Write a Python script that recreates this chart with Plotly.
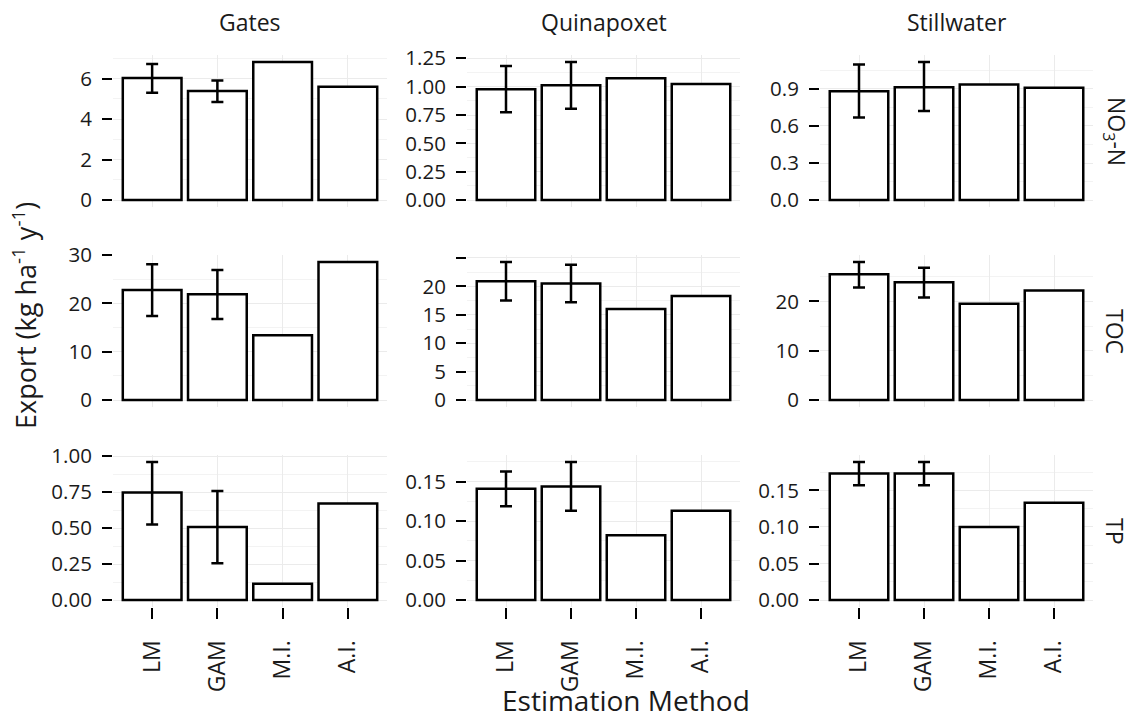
import plotly.graph_objects as go
from plotly.subplots import make_subplots

# ---------------- data ----------------
sites = ["Gates", "Quinapoxet", "Stillwater"]
variables = ["NO<sub>3</sub>-N", "TOC", "TP"]
methods = ["LM", "GAM", "M.I.", "A.I."]

# NO3-N
no3_gates = [6.02, 5.38, 6.82, 5.59]
no3_gates_lo = [5.30, 4.84, None, None]
no3_gates_hi = [6.72, 5.90, None, None]
no3_quin = [0.977, 1.012, 1.074, 1.024]
no3_quin_lo = [0.775, 0.805, None, None]
no3_quin_hi = [1.183, 1.218, None, None]
no3_still = [0.881, 0.913, 0.935, 0.908]
no3_still_lo = [0.668, 0.720, None, None]
no3_still_hi = [1.097, 1.118, None, None]

# TOC
toc_gates = [22.8, 21.9, 13.4, 28.6]
toc_gates_lo = [17.4, 16.8, None, None]
toc_gates_hi = [28.1, 26.9, None, None]
toc_quin = [20.9, 20.5, 16.0, 18.3]
toc_quin_lo = [17.5, 17.2, None, None]
toc_quin_hi = [24.3, 23.8, None, None]
toc_still = [25.5, 23.9, 19.5, 22.2]
toc_still_lo = [22.8, 20.8, None, None]
toc_still_hi = [28.0, 26.8, None, None]

# TP
tp_gates = [0.749, 0.508, 0.114, 0.672]
tp_gates_lo = [0.525, 0.256, None, None]
tp_gates_hi = [0.961, 0.758, None, None]
tp_quin = [0.141, 0.144, 0.082, 0.113]
tp_quin_lo = [0.119, 0.113, None, None]
tp_quin_hi = [0.163, 0.175, None, None]
tp_still = [0.173, 0.173, 0.100, 0.133]
tp_still_lo = [0.157, 0.157, None, None]
tp_still_hi = [0.189, 0.189, None, None]

# tick values / labels per panel (row-major)
ticks_no3_gates = [0, 2, 4, 6]
ticks_no3_quin = [0, 0.25, 0.5, 0.75, 1.0, 1.25]
ticks_no3_still = [0, 0.3, 0.6, 0.9]
ticks_toc_gates = [0, 10, 20, 30]
ticks_toc_quin = [0, 5, 10, 15, 20, 25]
ticks_toc_still = [0, 10, 20]
ticks_tp_gates = [0, 0.25, 0.5, 0.75, 1.0]
ticks_tp_quin = [0, 0.05, 0.10, 0.15]
ticks_tp_still = [0, 0.05, 0.10, 0.15]

labels_no3_gates = ["0", "2", "4", "6"]
labels_no3_quin = ["0.00", "0.25", "0.50", "0.75", "1.00", "1.25"]
labels_no3_still = ["0.0", "0.3", "0.6", "0.9"]
labels_toc_gates = ["0", "10", "20", "30"]
labels_toc_quin = ["0", "5", "10", "15", "20", ""]
labels_toc_still = ["0", "10", "20"]
labels_tp_gates = ["0.00", "0.25", "0.50", "0.75", "1.00"]
labels_tp_quin = ["0.00", "0.05", "0.10", "0.15"]
labels_tp_still = ["0.00", "0.05", "0.10", "0.15"]

panels = [
    [(no3_gates, no3_gates_lo, no3_gates_hi, ticks_no3_gates, labels_no3_gates),
     (no3_quin, no3_quin_lo, no3_quin_hi, ticks_no3_quin, labels_no3_quin),
     (no3_still, no3_still_lo, no3_still_hi, ticks_no3_still, labels_no3_still)],
    [(toc_gates, toc_gates_lo, toc_gates_hi, ticks_toc_gates, labels_toc_gates),
     (toc_quin, toc_quin_lo, toc_quin_hi, ticks_toc_quin, labels_toc_quin),
     (toc_still, toc_still_lo, toc_still_hi, ticks_toc_still, labels_toc_still)],
    [(tp_gates, tp_gates_lo, tp_gates_hi, ticks_tp_gates, labels_tp_gates),
     (tp_quin, tp_quin_lo, tp_quin_hi, ticks_tp_quin, labels_tp_quin),
     (tp_still, tp_still_lo, tp_still_hi, ticks_tp_still, labels_tp_still)],
]

# ---------------- layout geometry ----------------
W, H = 1134, 719
col_px = [(113, 387), (467, 740), (820, 1093)]
row_px = [(55, 207), (255, 407), (455, 607)]
FONT = "Open Sans"
TXT = "#1a1a1a"

fig = make_subplots(rows=3, cols=3)

for r in range(3):
    for c in range(3):
        vals, lo, hi, tv, tt = panels[r][c]
        idx = r * 3 + c + 1
        fig.add_trace(go.Bar(
            x=methods, y=vals, width=0.9,
            marker=dict(color="white", line=dict(color="black", width=2.5)),
            showlegend=False, hoverinfo="skip"), row=r + 1, col=c + 1)
        ex, ey, eu, ed = [], [], [], []
        for m, v, l, h in zip(methods, vals, lo, hi):
            if l is not None and h is not None:
                ex.append(m); ey.append(v); eu.append(h - v); ed.append(v - l)
        fig.add_trace(go.Scatter(
            x=ex, y=ey, mode="markers",
            marker=dict(size=1, color="rgba(0,0,0,0)"),
            error_y=dict(type="data", array=eu, arrayminus=ed, visible=True,
                         color="black", thickness=2.5, width=6),
            showlegend=False, hoverinfo="skip"), row=r + 1, col=c + 1)

        top = max([v for v in vals] + [h for h in hi if h is not None])
        yr = [-0.05 * top, 1.05 * top]
        step = tv[1] - tv[0]
        minor_vals = [t + step / 2 for t in tv] + [tv[0] - step / 2]
        minor_vals = [m for m in minor_vals if yr[0] <= m <= yr[1]]

        x0, x1 = col_px[c]
        y0, y1 = row_px[r]
        xa = "xaxis" if idx == 1 else f"xaxis{idx}"
        ya = "yaxis" if idx == 1 else f"yaxis{idx}"
        bottom = (r == 2)
        fig.layout[xa].update(
            domain=[x0 / W, x1 / W], range=[-0.6, 3.6], automargin=False,
            showgrid=True, gridcolor="#ebebeb", gridwidth=1,
            zeroline=False, showline=False,
            ticks="outside" if bottom else "", ticklen=11, tickwidth=2,
            tickcolor="black", showticklabels=bottom, tickangle=-90,
            ticklabelstandoff=12,
            tickfont=dict(family=FONT, size=23, color=TXT),
        )
        fig.layout[ya].update(
            domain=[1 - y1 / H, 1 - y0 / H], range=yr, automargin=False,
            tickmode="array", tickvals=tv, ticktext=tt,
            showgrid=True, gridcolor="#ebebeb", gridwidth=1,
            minor=dict(tickvals=minor_vals, showgrid=True,
                       gridcolor="#f3f3f3", gridwidth=1, ticks=""),
            zeroline=False, showline=False,
            ticks="outside", ticklen=10, tickwidth=2, tickcolor="black",
            ticklabelstandoff=6,
            tickfont=dict(family=FONT, size=20.5, color=TXT),
        )

annotations = []
for c, s in enumerate(sites):
    annotations.append(dict(
        text=s, x=(col_px[c][0] + col_px[c][1]) / 2 / W, y=1 - 22 / H,
        xref="paper", yref="paper", xanchor="center", yanchor="middle",
        showarrow=False, font=dict(family=FONT, size=23, color=TXT)))
for r, v in enumerate(variables):
    annotations.append(dict(
        text=v, x=1115 / W, y=1 - (row_px[r][0] + row_px[r][1]) / 2 / H,
        xref="paper", yref="paper", xanchor="center", yanchor="middle",
        showarrow=False, textangle=90,
        font=dict(family=FONT, size=23, color=TXT)))
annotations.append(dict(
    text="Export (kg ha<sup>-1</sup> y<sup>-1</sup>)", x=24 / W, y=1 - 316 / H,
    xref="paper", yref="paper", xanchor="center", yanchor="middle",
    showarrow=False, textangle=-90,
    font=dict(family=FONT, size=27, color=TXT)))
annotations.append(dict(
    text="Estimation Method", x=626 / W, y=1 - 700 / H,
    xref="paper", yref="paper", xanchor="center", yanchor="middle",
    showarrow=False, font=dict(family=FONT, size=28, color=TXT)))

fig.update_layout(
    width=W, height=H, margin=dict(l=0, r=0, t=0, b=0, autoexpand=False),
    paper_bgcolor="white", plot_bgcolor="white",
    bargap=0.1, annotations=annotations, showlegend=False,
)

fig.write_html("out.html")
